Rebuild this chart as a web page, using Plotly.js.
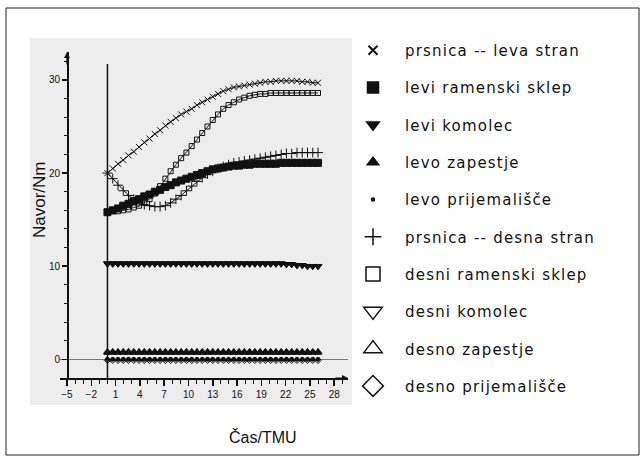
<!DOCTYPE html>
<html>
<head>
<meta charset="utf-8">
<script src="https://cdn.plot.ly/plotly-3.0.1.min.js"></script>
<style>html,body{margin:0;padding:0;background:#fff;}#chart{width:644px;height:470px;}
.legendtext{letter-spacing:1.2px;}
</style>
</head>
<body>
<div id="chart"></div>
<script>
// Čas/TMU
const t = [0,0.65,1.3,1.95,2.6,3.25,3.9,4.55,5.2,5.85,6.5,7.15,7.8,8.45,9.1,9.75,10.4,11.05,11.7,12.35,13,13.65,14.3,14.95,15.6,16.25,16.9,17.55,18.2,18.85,19.5,20.15,20.8,21.45,22.1,22.75,23.4,24.05,24.7,25.35,26];

const prsnicaLeva = [20,20.5,21,21.4,21.9,22.3,22.8,23.3,23.7,24.2,24.6,25.1,25.5,25.9,26.3,26.6,26.9,27.3,27.6,27.9,28.2,28.5,28.8,29,29.2,29.3,29.4,29.5,29.6,29.7,29.8,29.8,29.9,29.9,29.9,29.9,29.9,29.8,29.8,29.7,29.7];
const leviRamenski = [15.8,16,16.2,16.5,16.7,17,17.2,17.5,17.7,18,18.2,18.5,18.7,19,19.2,19.4,19.6,19.8,20,20.2,20.4,20.5,20.6,20.7,20.8,20.8,20.9,20.9,21,21,21,21,21,21.1,21.1,21.1,21.1,21.1,21.1,21.1,21.1];
const leviKomolec = [10.3,10.3,10.3,10.3,10.3,10.3,10.3,10.3,10.3,10.3,10.3,10.3,10.3,10.3,10.3,10.3,10.3,10.3,10.3,10.3,10.3,10.3,10.3,10.3,10.3,10.3,10.3,10.3,10.3,10.3,10.3,10.3,10.3,10.3,10.2,10.2,10.1,10.1,10.0,10.0,10.0];
const levoZapestje = [0.8,0.8,0.8,0.8,0.8,0.8,0.8,0.8,0.8,0.8,0.8,0.8,0.8,0.8,0.8,0.8,0.8,0.8,0.8,0.8,0.8,0.8,0.8,0.8,0.8,0.8,0.8,0.8,0.8,0.8,0.8,0.8,0.8,0.8,0.8,0.8,0.8,0.8,0.8,0.8,0.8];
const levoPrijem = [0,0,0,0,0,0,0,0,0,0,0,0,0,0,0,0,0,0,0,0,0,0,0,0,0,0,0,0,0,0,0,0,0,0,0,0,0,0,0,0,0];
const prsnicaDesna = [20,19.4,18.7,18.1,17.6,17.2,16.9,16.6,16.5,16.4,16.4,16.5,16.8,17.2,17.6,18.1,18.6,19.1,19.5,19.9,20.2,20.5,20.7,20.9,21.1,21.2,21.3,21.4,21.5,21.6,21.7,21.8,21.9,22,22.1,22.1,22.2,22.2,22.2,22.2,22.2];
const desniRamenski = [15.8,15.9,15.9,16,16.1,16.3,16.5,16.8,17.2,17.8,18.6,19.4,20.2,20.9,21.6,22.2,22.9,23.6,24.3,25,25.7,26.3,26.9,27.3,27.6,27.9,28.1,28.3,28.4,28.5,28.5,28.6,28.6,28.6,28.6,28.6,28.6,28.6,28.6,28.6,28.6];
const desniKomolec = [10.2,10.2,10.2,10.2,10.2,10.2,10.2,10.2,10.2,10.2,10.2,10.2,10.2,10.2,10.2,10.2,10.2,10.2,10.2,10.2,10.2,10.2,10.2,10.2,10.2,10.2,10.2,10.2,10.2,10.2,10.2,10.2,10.2,10.2,10.2,10.2,10.1,10.1,10.0,10.0,10.0];
const desnoZapestje = [0.7,0.7,0.7,0.7,0.7,0.7,0.7,0.7,0.7,0.7,0.7,0.7,0.7,0.7,0.7,0.7,0.7,0.7,0.7,0.7,0.7,0.7,0.7,0.7,0.7,0.7,0.7,0.7,0.7,0.7,0.7,0.7,0.7,0.7,0.7,0.7,0.7,0.7,0.7,0.7,0.7];
const desnoPrijem = [-0.1,-0.1,-0.1,-0.1,-0.1,-0.1,-0.1,-0.1,-0.1,-0.1,-0.1,-0.1,-0.1,-0.1,-0.1,-0.1,-0.1,-0.1,-0.1,-0.1,-0.1,-0.1,-0.1,-0.1,-0.1,-0.1,-0.1,-0.1,-0.1,-0.1,-0.1,-0.1,-0.1,-0.1,-0.1,-0.1,-0.1,-0.1,-0.1,-0.1,-0.1];

const names = ["prsnica -- leva stran","levi ramenski sklep","levi komolec","levo zapestje","levo prijemališče","prsnica -- desna stran","desni ramenski sklep","desni komolec","desno zapestje","desno prijemališče"];
const series = [prsnicaLeva,leviRamenski,leviKomolec,levoZapestje,levoPrijem,prsnicaDesna,desniRamenski,desniKomolec,desnoZapestje,desnoPrijem];
const symbols = ["x-thin","square","triangle-down","triangle-up","circle","cross-thin","square-open","triangle-down-open","triangle-up-open","diamond-open"];
const plotSizes = [6,7,7,7,4,7,5,6,6,5];
const legendSizes = [9,11,11,10,3,12,14,16,18,16];

const W = 644, H = 470;
const FONT = "Liberation Sans, Arial, sans-serif";
const LFONT = "DejaVu Sans, Liberation Sans, sans-serif";
const traces = [];
series.forEach((ys,i)=>{
  traces.push({
    type:"scatter", mode:"lines+markers", x:t, y:ys, name:names[i], showlegend:false,
    line:{color:"#111", width:1},
    marker:{symbol:symbols[i], size:plotSizes[i], color:"#111", line:{color:"#111", width:1}},
    hoverinfo:"skip"
  });
});
series.forEach((ys,i)=>{
  traces.push({
    type:"scatter", mode:"markers", x:[null], y:[null], name:names[i], showlegend:true,
    legendgroup:"g"+i,
    marker:{symbol:symbols[i], size:legendSizes[i], color:"#111", line:{color:"#111", width:(i===0?2:1.5)}}
  });
});

const layout = {
  width:W, height:H, margin:{l:0,r:0,t:0,b:0,pad:0},
  paper_bgcolor:"#fff", plot_bgcolor:"rgba(0,0,0,0)",
  font:{family:FONT, color:"#111"},
  showlegend:true,
  legend:{x:341/W, xanchor:"left", y:(H-34)/H, yanchor:"top", traceorder:"grouped",
          tracegroupgap:14.8, itemwidth:54, font:{size:15, family:LFONT, color:"#111"},
          bgcolor:"rgba(0,0,0,0)", borderwidth:0, itemclick:false, itemdoubleclick:false},
  xaxis:{domain:[60/W,348/W], range:[-5.86,29.7], automargin:false,
         showline:true, linecolor:"#111", linewidth:1.5, showgrid:false, zeroline:false,
         tick0:-5, dtick:3, ticks:"outside", ticklen:6, tickwidth:1.5, tickcolor:"#111",
         minor:{tick0:-5, dtick:1, ticks:"outside", ticklen:4, tickwidth:1, tickcolor:"#111"},
         tickfont:{size:10, family:FONT, color:"#111"}},
  yaxis:{domain:[92/H,418/H], range:[-2,33], automargin:false, anchor:"free", position:67/W,
         showline:true, linecolor:"#111", linewidth:1.5, showgrid:false,
         zeroline:true, zerolinecolor:"#777", zerolinewidth:1,
         tick0:0, dtick:10, ticks:"outside", ticklen:5, tickwidth:1.5, tickcolor:"#111",
         minor:{dtick:2, ticks:"outside", ticklen:3, tickwidth:1, tickcolor:"#111"},
         tickfont:{size:10, family:FONT, color:"#111"}},
  shapes:[
    {type:"rect", xref:"paper", yref:"paper", x0:30/W, x1:352/W, y0:(H-405)/H, y1:(H-38)/H,
     fillcolor:"rgba(0,0,0,0.07)", line:{width:0}, layer:"below"},
    {type:"rect", xref:"paper", yref:"paper", x0:6/W, x1:639/W, y0:(H-455)/H, y1:(H-8)/H,
     fillcolor:"rgba(0,0,0,0)", line:{color:"#222", width:1}},
    {type:"line", xref:"x", yref:"y", x0:0, x1:0, y0:-2, y1:31.7, line:{color:"#111", width:1.5}}
  ],
  annotations:[
    {xref:"x", yref:"y", x:29.7, y:-2, ax:-14, ay:0, text:"", showarrow:true, arrowhead:2, arrowsize:1, arrowwidth:1.2, arrowcolor:"#111"},
    {xref:"x", yref:"y", x:-5, y:33, ax:0, ay:14, text:"", showarrow:true, arrowhead:2, arrowsize:1, arrowwidth:1.2, arrowcolor:"#111"},
    {xref:"paper", yref:"paper", x:40/W, y:(H-200)/H, text:"Navor/Nm", textangle:-90, showarrow:false,
     font:{size:17, family:FONT, color:"#111"}, xanchor:"center", yanchor:"middle"},
    {xref:"paper", yref:"paper", x:263/W, y:(H-437)/H, text:"Čas/TMU", showarrow:false,
     font:{size:16, family:FONT, color:"#111"}, xanchor:"center", yanchor:"middle"}
  ]
};

Plotly.newPlot("chart", traces, layout, {displayModeBar:false, staticPlot:true});
</script>
</body>
</html>
